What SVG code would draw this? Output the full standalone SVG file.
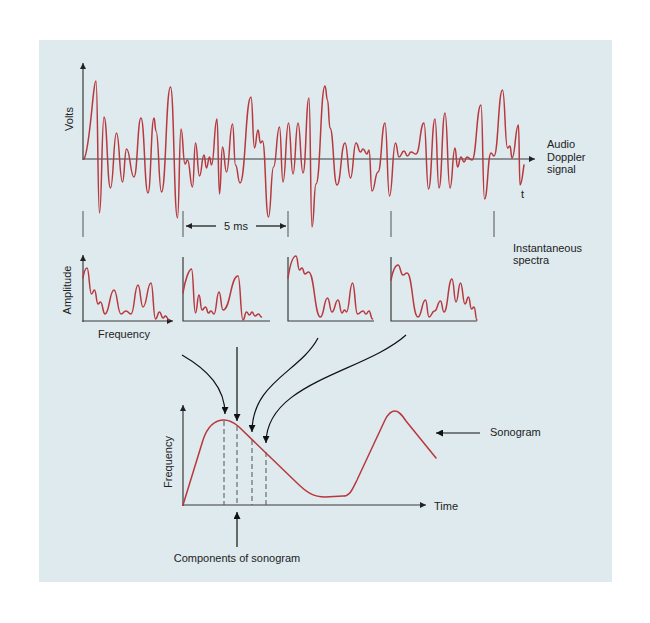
<svg xmlns="http://www.w3.org/2000/svg" width="650" height="623" viewBox="0 0 650 623">
<defs>
<style>
.txt{font-family:"Liberation Sans",Arial,sans-serif;font-size:11px;fill:#222}
.ax{stroke:#3a3a3a;stroke-width:1.2;fill:none}
.sig{stroke:#b8383d;stroke-width:1.5;fill:none;stroke-linejoin:round;stroke-linecap:round}
.tick{stroke:#555;stroke-width:1;fill:none}
.dash{stroke:#555;stroke-width:1;fill:none;stroke-dasharray:5,3}
.arr{stroke:#111;stroke-width:1.2;fill:none}
</style>
<marker id="ah" viewBox="0 0 10 10" refX="10" refY="5" markerWidth="8" markerHeight="7" markerUnits="userSpaceOnUse" orient="auto">
<path d="M0,0 L10,5 L0,10 z" fill="#111"/>
</marker>
<marker id="ahs" viewBox="0 0 10 10" refX="10" refY="5" markerWidth="7" markerHeight="6" markerUnits="userSpaceOnUse" orient="auto">
<path d="M0,0 L10,5 L0,10 z" fill="#222"/>
</marker>
</defs>
<rect x="0" y="0" width="650" height="623" fill="#ffffff"/>
<rect x="39" y="40" width="573" height="542" fill="#deeaee"/>

<g id="doppler-signal">
<line class="ax" x1="83" y1="160" x2="83" y2="63" marker-end="url(#ahs)"/>
<line class="ax" x1="83" y1="159" x2="535" y2="159" marker-end="url(#ahs)"/>
<path class="sig" d="M84,159 C90,150 93,81 96,81 C97.75,81 97.75,213 99.5,213 C101.75,213 101.75,117 104,117 C107.25,117 107.25,188 110.5,188 C113.5,188 113.5,133 116.5,133 C119.5,133 119.5,182 122.5,182 C124.5,182 124.5,149 126.5,149 C130.25,149 130.25,177 134,177 C137.5,177 137.5,118 141,118 C144.5,118 144.5,193 148,193 C151,193 151,118 154,118 C155,118 155,131 156,131 C158.75,131 158.75,192 161.5,192 C166,192 166,87 170.5,87 C174,87 174,218 177.5,218 C179.25,218 179.25,129 181,129 C183,129 183,164 185,164 C186.25,164 186.25,160 187.5,160 C190,160 190,187 192.5,187 C194,187 194,143 195.5,143 C197.5,143 197.5,176 199.5,176 C201.75,176 201.75,155 204,155 C205.25,155 205.25,168 206.5,168 C208,168 208,157 209.5,157 C210.5,157 210.5,165 211.5,165 C214.25,165 214.25,119 217,119 C218.25,119 218.25,194 219.5,194 C221,194 221,147 222.5,147 C224.5,147 224.5,172 226.5,172 C229.5,172 229.5,124 232.5,124 C234,124 234,165 235.5,165 C237.75,165 237.75,183 240,183 C245.5,183 245.5,97 251,97 C252.75,97 252.75,148 254.5,148 C256.25,148 256.25,130 258,130 C259.25,130 259.25,143 260.5,143 C261.5,143 261.5,141 262.5,141 C265.5,141 265.5,217 268.5,217 C271,217 271,167 273.5,167 C276.5,167 276.5,127 279.5,127 C281.25,127 281.25,182 283,182 C285.75,182 285.75,123 288.5,123 C290.75,123 290.75,174 293,174 C295.5,174 295.5,123 298,123 C300.5,123 300.5,173 303,173 C306,173 306,98 309,98 C310.5,98 310.5,227 312,227 C314,227 314,184 316,184 C320.5,184 320.5,86 325,86 C326.25,86 326.25,100 327.5,100 C328.75,100 328.75,128 330,128 C333.5,128 333.5,185 337,185 C341,185 341,143 345,143 C347.75,143 347.75,178 350.5,178 C353.25,178 353.25,143 356,143 C358.25,143 358.25,152 360.5,152 C361.75,152 361.75,149 363,149 C365,149 365,154 367,154 C368,154 368,150 369,150 C370.5,150 370.5,191 372,191 C375,191 375,172 378,172 C381.5,172 381.5,123 385,123 C387.25,123 387.25,196 389.5,196 C392.5,196 392.5,143 395.5,143 C397.25,143 397.25,157 399,157 C401.5,157 401.5,151 404,151 C405.75,151 405.75,156 407.5,156 C409.25,156 409.25,152 411,152 C413.5,152 413.5,154 416,154 C420,154 420,123 424,123 C426.25,123 426.25,189 428.5,189 C431.75,189 431.75,119 435,119 C437,119 437,188 439,188 C442,188 442,113 445,113 C447.5,113 447.5,188 450,188 C452.5,188 452.5,148 455,148 C456.25,148 456.25,167 457.5,167 C459.25,167 459.25,157 461,157 C462.5,157 462.5,162 464,162 C465.5,162 465.5,157 467,157 C469.5,157 469.5,160 472,160 C476.5,160 476.5,105 481,105 C482.75,105 482.75,199 484.5,199 C487.75,199 487.75,153 491,153 C492.5,153 492.5,156 494,156 C498.25,156 498.25,90 502.5,90 C505,90 505,148 507.5,148 C508.75,148 508.75,146 510,146 C511,146 511,158 512,158 C515.25,158 515.25,125 518.5,125 C519.25,125 519.25,185 520,185 C522,185 523,170 524,165"/>
<text class="txt" transform="translate(72.5,119) rotate(-90)" text-anchor="middle">Volts</text>
<text class="txt" x="547" y="148">Audio</text>
<text class="txt" x="547" y="160.5">Doppler</text>
<text class="txt" x="547" y="173">signal</text>
<text class="txt" x="521" y="198">t</text>
</g>

<g id="time-ticks">
<line class="tick" x1="83" y1="211" x2="83" y2="237"/>
<line class="tick" x1="183" y1="211" x2="183" y2="237"/>
<line class="tick" x1="288" y1="211" x2="288" y2="237"/>
<line class="tick" x1="391" y1="211" x2="391" y2="237"/>
<line class="tick" x1="494" y1="211" x2="494" y2="237"/>
<line class="arr" x1="216" y1="226" x2="186" y2="226" marker-end="url(#ahs)"/>
<line class="arr" x1="256" y1="226" x2="286" y2="226" marker-end="url(#ahs)"/>
<text class="txt" x="236" y="230" text-anchor="middle">5 ms</text>
<text class="txt" x="513" y="251.5">Instantaneous</text>
<text class="txt" x="513" y="264">spectra</text>
</g>

<g id="spectrum-1">
<line class="ax" x1="83" y1="322" x2="83" y2="255" marker-end="url(#ahs)"/>
<line class="ax" x1="82.4" y1="321" x2="173" y2="321" marker-end="url(#ahs)"/>
<path class="sig" d="M83,278 C84,272 85,268 87,268 C89.25,268 89.25,294 91.5,294 C93,294 93,290 94.5,290 C96.25,290 96.25,304 98,304 C99.25,304 99.25,302 100.5,302 C102.75,302 102.75,314 105,314 C109.5,314 109.5,290 114,290 C117.5,290 117.5,314 121,314 C123.5,314 123.5,311 126,311 C128.5,311 128.5,314 131,314 C134.5,314 134.5,285 138,285 C140.5,285 140.5,307 143,307 C147,307 147,283 151,283 C153.25,283 153.25,319 155.5,319 C157.5,319 157.5,312 159.5,312 C161.25,312 161.25,318 163,318 C164.25,318 164.25,316 165.5,316 C167.25,316 167.25,320 169,320"/>
<text class="txt" transform="translate(71,290) rotate(-90)" text-anchor="middle">Amplitude</text>
<text class="txt" x="124" y="338" text-anchor="middle">Frequency</text>
</g>

<g id="spectrum-2">
<polyline class="ax" points="183,257 183,321 270,321"/>
<path class="sig" d="M183,293 C185,280 189,269 191.5,269 C193.5,269 193.5,313 195.5,313 C197.25,313 197.25,295 199,295 C200.5,295 200.5,310 202,310 C203.75,310 203.75,307 205.5,307 C207,307 207,313 208.5,313 C209.75,313 209.75,311 211,311 C212.5,311 212.5,314 214,314 C216.5,314 216.5,292 219,292 C221,292 221,310 223,310 C230.5,310 230.5,276 238,276 C240.5,276 240.5,320 243,320 C244.75,320 244.75,312 246.5,312 C248,312 248,315 249.5,315 C250.75,315 250.75,312 252,312 C253.5,312 253.5,316 255,316 C256.75,316 256.75,314 258.5,314 C260,314 260,317 261.5,317"/>
</g>

<g id="spectrum-3">
<polyline class="ax" points="288,257 288,321 374,321"/>
<path class="sig" d="M288,278 C290,265 293,256 296,256 C297.75,256 297.75,270 299.5,270 C300.75,270 300.75,268 302,268 C303.5,268 303.5,274 305,274 C306.75,274 306.75,272 308.5,272 C314.5,272 314.5,317 320.5,317 C324,317 324,298 327.5,298 C329.75,298 329.75,312 332,312 C335,312 335,300 338,300 C340,300 340,313 342,313 C343.25,313 343.25,310 344.5,310 C345.5,310 345.5,312 346.5,312 C349.5,312 349.5,283 352.5,283 C355,283 355,314 357.5,314 C360.25,314 360.25,311 363,311 C364.5,311 364.5,314 366,314 C367.5,314 367.5,311 369,311 C370.75,311 370.75,319 372.5,319"/>
</g>

<g id="spectrum-4">
<polyline class="ax" points="391,257 391,321 477,321"/>
<path class="sig" d="M391,280 C393,270 395,265 398,265 C400.5,265 400.5,275 403,275 C405,275 405,273 407,273 C412.5,273 412.5,317 418,317 C421.75,317 421.75,300 425.5,300 C427.25,300 427.25,317 429,317 C431.75,317 431.75,311 434.5,311 C437.5,311 437.5,301 440.5,301 C442.25,301 442.25,312 444,312 C448,312 448,279 452,279 C454,279 454,302 456,302 C458.25,302 458.25,283 460.5,283 C462.75,283 462.75,304 465,304 C466.75,304 466.75,297 468.5,297 C470,297 470,309 471.5,309 C472.75,309 472.75,307 474,307 C475.5,307 475.5,320 477,320"/>
</g>

<g id="sonogram">
<line class="ax" x1="183" y1="506" x2="183" y2="405" marker-end="url(#ahs)"/>
<line class="ax" x1="182.4" y1="505" x2="426" y2="505" marker-end="url(#ahs)"/>
<line class="dash" x1="224" y1="421" x2="224" y2="505"/>
<line class="dash" x1="237" y1="426" x2="237" y2="505"/>
<line class="dash" x1="252" y1="440" x2="252" y2="505"/>
<line class="dash" x1="266" y1="452" x2="266" y2="505"/>
<path class="sig" d="M183,505 L203,440 C208,425 215,420 224,420 C229,420 233,422 238,426 L296,482 C307,493 314,497 325,497 L343,496 C350,496 352,490 357,480 L385,420 C389,412 392,411 395,411 C399,411 402,415 406,421 L436,458"/>
<text class="txt" transform="translate(172,462) rotate(-90)" text-anchor="middle">Frequency</text>
<text class="txt" x="434" y="510">Time</text>
<text class="txt" x="490" y="436">Sonogram</text>
<text class="txt" x="237" y="562" text-anchor="middle">Components of sonogram</text>
</g>

<g id="connectors">
<path class="arr" d="M182,355 C208,370 225,388 225,414" marker-end="url(#ah)"/>
<path class="arr" d="M237,347 L237,421" marker-end="url(#ah)"/>
<path class="arr" d="M318,338 C300,372 252,382 252,432" marker-end="url(#ah)"/>
<path class="arr" d="M406,335 C365,372 266,382 266,443" marker-end="url(#ah)"/>
<path class="arr" d="M237,547 L237,512" marker-end="url(#ah)"/>
<path class="arr" d="M480,433 L436,433" marker-end="url(#ah)"/>
</g>
</svg>
